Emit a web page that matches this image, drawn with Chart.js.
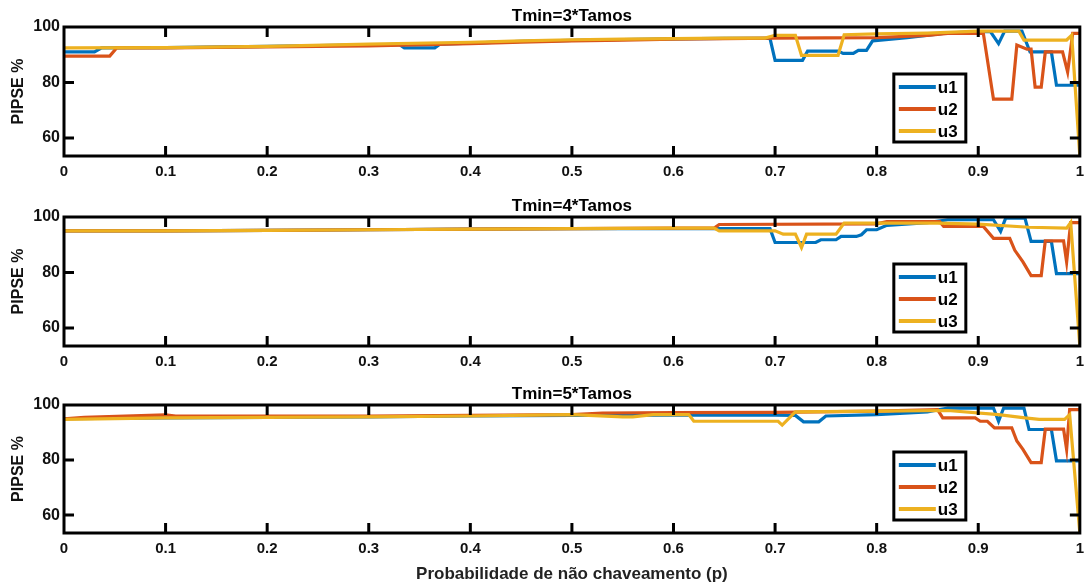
<!DOCTYPE html>
<html>
<head>
<meta charset="utf-8">
<script src="https://cdn.jsdelivr.net/npm/chart.js@4.4.1/dist/chart.umd.min.js"></script>
<style>
  body { margin: 0; background: #fff; }
  #wrap { position: relative; width: 1091px; height: 585px; }
  canvas { position: absolute; left: 0; }
</style>
</head>
<body>
<div id="wrap">
  <canvas id="c1" width="1091" height="187" style="top:0px"></canvas>
  <canvas id="c2" width="1091" height="187" style="top:190px"></canvas>
  <canvas id="c3" width="1091" height="207" style="top:378px"></canvas>
</div>
<script>
// Axis ticks
const xTicks = [0, 0.1, 0.2, 0.3, 0.4, 0.5, 0.6, 0.7, 0.8, 0.9, 1];
const xTickLabels = ['0', '0.1', '0.2', '0.3', '0.4', '0.5', '0.6', '0.7', '0.8', '0.9', '1'];
const yTicks = [60, 80, 100];
const seriesNames = ['u1', 'u2', 'u3'];
const titles = ['Tmin=3*Tamos', 'Tmin=4*Tamos', 'Tmin=5*Tamos'];

// Tmin = 3*Tamos
const x1_u1 = [0, 0.03, 0.037, 0.1, 0.2, 0.3, 0.33, 0.335, 0.365, 0.37, 0.4, 0.45, 0.5, 0.55, 0.6, 0.65, 0.695, 0.7, 0.727, 0.732, 0.762, 0.767, 0.777, 0.782, 0.79, 0.796, 0.83, 0.868, 0.9, 0.912, 0.92, 0.926, 0.943, 0.951, 0.972, 0.977, 0.992, 1];
const y1_u1 = [91, 91, 92.5, 92.6, 93, 93.6, 93.7, 92.5, 92.5, 93.8, 94.2, 94.8, 95.2, 95.5, 95.7, 95.9, 95.9, 88, 88, 91.3, 91.3, 90.5, 90.5, 91.6, 91.6, 95, 96.2, 97.8, 98.3, 98.3, 94, 98.5, 98.5, 91, 91, 79, 79, 79];
const x1_u2 = [0, 0.045, 0.052, 0.1, 0.2, 0.3, 0.4, 0.45, 0.5, 0.55, 0.6, 0.65, 0.7, 0.8, 0.85, 0.87, 0.905, 0.915, 0.933, 0.938, 0.948, 0.952, 0.956, 0.962, 0.966, 0.983, 0.988, 0.993, 1];
const y1_u2 = [89.5, 89.5, 92.5, 92.5, 92.8, 93.2, 94, 94.5, 95, 95.3, 95.6, 95.8, 96, 96.2, 97, 97.7, 97.7, 74, 74, 93.5, 92, 92, 78.3, 78.3, 91, 91, 83.8, 97.7, 97.7];
const x1_u3 = [0, 0.1, 0.2, 0.3, 0.4, 0.45, 0.5, 0.55, 0.6, 0.65, 0.69, 0.7, 0.72, 0.726, 0.762, 0.768, 0.8, 0.85, 0.9, 0.94, 0.945, 0.987, 0.992, 1];
const y1_u3 = [92.5, 92.6, 93, 93.8, 94.5, 95, 95.4, 95.6, 95.8, 96, 96, 97, 97, 89.8, 89.8, 97.2, 97.5, 97.8, 98.5, 98.5, 95.3, 95.3, 97, 53.5];

// Tmin = 4*Tamos
const x2_u1 = [0, 0.1, 0.2, 0.3, 0.4, 0.5, 0.6, 0.695, 0.7, 0.74, 0.745, 0.76, 0.765, 0.78, 0.785, 0.79, 0.8, 0.81, 0.85, 0.87, 0.915, 0.922, 0.927, 0.946, 0.952, 0.972, 0.977, 1];
const y2_u1 = [95, 95, 95.2, 95.4, 95.6, 95.8, 95.8, 95.8, 90.8, 90.8, 91.8, 91.8, 93, 93, 93.6, 95.4, 95.4, 97, 98, 99, 99, 94.8, 99.6, 99.6, 91.2, 91.2, 79.6, 79.6];
const x2_u2 = [0, 0.1, 0.2, 0.3, 0.4, 0.5, 0.6, 0.64, 0.645, 0.8, 0.81, 0.862, 0.866, 0.905, 0.915, 0.931, 0.936, 0.944, 0.952, 0.962, 0.966, 0.984, 0.987, 0.991, 1];
const y2_u2 = [95, 95, 95.2, 95.4, 95.6, 95.8, 96, 96, 97.3, 97.5, 98.3, 98.3, 96.6, 96.6, 92.3, 92.3, 88, 83.8, 78.9, 78.9, 91.4, 91.4, 83.8, 98, 98];
const x2_u3 = [0, 0.1, 0.2, 0.3, 0.4, 0.5, 0.6, 0.64, 0.645, 0.7, 0.708, 0.72, 0.726, 0.731, 0.76, 0.768, 0.86, 0.9, 0.95, 0.987, 0.991, 1];
const y2_u3 = [95, 95, 95.2, 95.4, 95.6, 95.8, 96, 96, 95, 95, 93.8, 93.8, 89, 93.8, 93.8, 97.8, 97.8, 97.4, 96.3, 96, 98, 53.5];

// Tmin = 5*Tamos
const x3_u1 = [0, 0.1, 0.2, 0.3, 0.4, 0.5, 0.6, 0.7, 0.72, 0.728, 0.743, 0.75, 0.8, 0.85, 0.87, 0.915, 0.92, 0.925, 0.945, 0.95, 0.972, 0.977, 1];
const y3_u1 = [95, 95.3, 95.5, 95.7, 96, 96.2, 96.3, 96.3, 96.2, 93.9, 93.9, 96, 96.5, 97.5, 98.9, 98.9, 94.1, 98.9, 98.9, 91.1, 91.1, 79.7, 79.7];
const x3_u2 = [0, 0.02, 0.1, 0.11, 0.2, 0.3, 0.4, 0.5, 0.53, 0.6, 0.7, 0.8, 0.86, 0.865, 0.897, 0.902, 0.909, 0.916, 0.933, 0.938, 0.944, 0.952, 0.962, 0.966, 0.984, 0.987, 0.99, 1];
const y3_u2 = [95, 95.5, 96.4, 96, 96, 96, 96.2, 96.5, 97.1, 97.2, 97.3, 97.8, 98.3, 95.3, 95.3, 94.1, 94.1, 91.7, 91.7, 86.9, 83.9, 79.1, 79.1, 91.2, 91.2, 83.9, 98.3, 98.3];
const x3_u3 = [0, 0.1, 0.2, 0.3, 0.4, 0.5, 0.55, 0.56, 0.58, 0.615, 0.62, 0.703, 0.707, 0.72, 0.8, 0.87, 0.92, 0.946, 0.96, 0.985, 0.99, 1];
const y3_u3 = [94.8, 95.3, 95.5, 95.7, 96, 96.5, 95.7, 95.7, 96.5, 96.5, 94.1, 94.1, 92.7, 97.5, 97.8, 98, 96.5, 95.3, 94.8, 94.8, 96.5, 53.5];

const colors = ['#0072BD', '#D95319', '#EDB120'];
const FONT = "'Liberation Sans', Arial, sans-serif";

const toPoints = (xs, ys) => xs.map((x, i) => ({ x, y: ys[i] }));

// Black box, inward ticks and the boxed legend (MATLAB look)
const boxPlugin = {
    id: 'box',
    afterDatasetsDraw(chart) {
        const { ctx, chartArea: a, scales } = chart;
        ctx.save();
        ctx.strokeStyle = '#000';
        ctx.lineWidth = 3;
        ctx.strokeRect(a.left, a.top, a.right - a.left, a.bottom - a.top);
        ctx.beginPath();
        xTicks.slice(1, -1).forEach(v => {
            const px = scales.x.getPixelForValue(v);
            ctx.moveTo(px, a.bottom); ctx.lineTo(px, a.bottom - 10);
            ctx.moveTo(px, a.top); ctx.lineTo(px, a.top + 10);
        });
        yTicks.filter(v => v < 100).forEach(v => {
            const py = scales.y.getPixelForValue(v);
            ctx.moveTo(a.left, py); ctx.lineTo(a.left + 10, py);
            ctx.moveTo(a.right, py); ctx.lineTo(a.right - 10, py);
        });
        ctx.stroke();

        // legend
        const lx = a.right - 186, ly = a.top + 47, lw = 72, lh = 68;
        ctx.fillStyle = '#fff';
        ctx.fillRect(lx, ly, lw, lh);
        ctx.strokeRect(lx, ly, lw, lh);
        ctx.font = 'bold 17px ' + FONT;
        ctx.textBaseline = 'middle';
        chart.data.datasets.forEach((ds, i) => {
            const ry = ly + 13 + i * 22;
            ctx.strokeStyle = ds.borderColor;
            ctx.lineWidth = 4;
            ctx.beginPath();
            ctx.moveTo(lx + 5, ry); ctx.lineTo(lx + 42, ry);
            ctx.stroke();
            ctx.fillStyle = '#000';
            ctx.fillText(ds.label, lx + 44, ry + 1);
        });
        ctx.restore();
    }
};

const makeChart = (id, title, series, showXTitle) => {
    const ctx = document.getElementById(id).getContext('2d');
    const datasets = series.map((s, i) => ({
        label: seriesNames[i],
        data: toPoints(s[0], s[1]),
        borderColor: colors[i],
        borderWidth: 3.2,
        pointRadius: 0,
        tension: 0,
        order: 2 - i
    }));

    new Chart(ctx, {
        type: 'line',
        data: { datasets },
        options: {
            responsive: false,
            animation: false,
            devicePixelRatio: 1,
            layout: { padding: { left: 0, right: 6, top: 0, bottom: 0 } },
            plugins: {
                legend: { display: false },
                tooltip: { enabled: false },
                title: {
                    display: true,
                    text: title,
                    fullSize: false,
                    color: '#000',
                    font: { family: FONT, size: 17, weight: 'bold', lineHeight: 1.2 },
                    padding: { top: 6, bottom: 0.6 }
                }
            },
            scales: {
                x: {
                    type: 'linear',
                    min: 0,
                    max: 1,
                    afterBuildTicks: (scale) => { scale.ticks = xTicks.map(v => ({ value: v })); },
                    afterFit: (scale) => { scale.height = showXTitle ? 52 : 31; },
                    grid: { display: false, drawTicks: false },
                    border: { display: false },
                    ticks: {
                        color: '#111',
                        padding: 7,
                        maxRotation: 0,
                        autoSkip: false,
                        font: { family: FONT, size: 15, weight: 'bold' },
                        callback: (value, index) => xTickLabels[index]
                    },
                    title: {
                        display: showXTitle,
                        text: 'Probabilidade de não chaveamento (p)',
                        color: '#222',
                        font: { family: FONT, size: 17, weight: 'bold', lineHeight: 1.2 },
                        padding: { top: 0, bottom: 0 }
                    }
                },
                y: {
                    min: 53.5,
                    max: 100,
                    afterBuildTicks: (scale) => { scale.ticks = yTicks.map(v => ({ value: v })); },
                    afterFit: (scale) => { scale.width = 64; },
                    grid: { display: false, drawTicks: false },
                    border: { display: false },
                    ticks: {
                        color: '#111',
                        padding: 4,
                        font: { family: FONT, size: 16, weight: 'bold' }
                    },
                    title: {
                        display: true,
                        text: 'PIPSE %',
                        color: '#111',
                        font: { family: FONT, size: 16, weight: 'bold', lineHeight: 1.2 },
                        padding: { top: 9, bottom: 0 }
                    }
                }
            }
        },
        plugins: [boxPlugin]
    });
};

document.addEventListener('DOMContentLoaded', () => {
    makeChart('c1', titles[0], [[x1_u1, y1_u1], [x1_u2, y1_u2], [x1_u3, y1_u3]], false);
    makeChart('c2', titles[1], [[x2_u1, y2_u1], [x2_u2, y2_u2], [x2_u3, y2_u3]], false);
    makeChart('c3', titles[2], [[x3_u1, y3_u1], [x3_u2, y3_u2], [x3_u3, y3_u3]], true);
});
</script>
</body>
</html>
